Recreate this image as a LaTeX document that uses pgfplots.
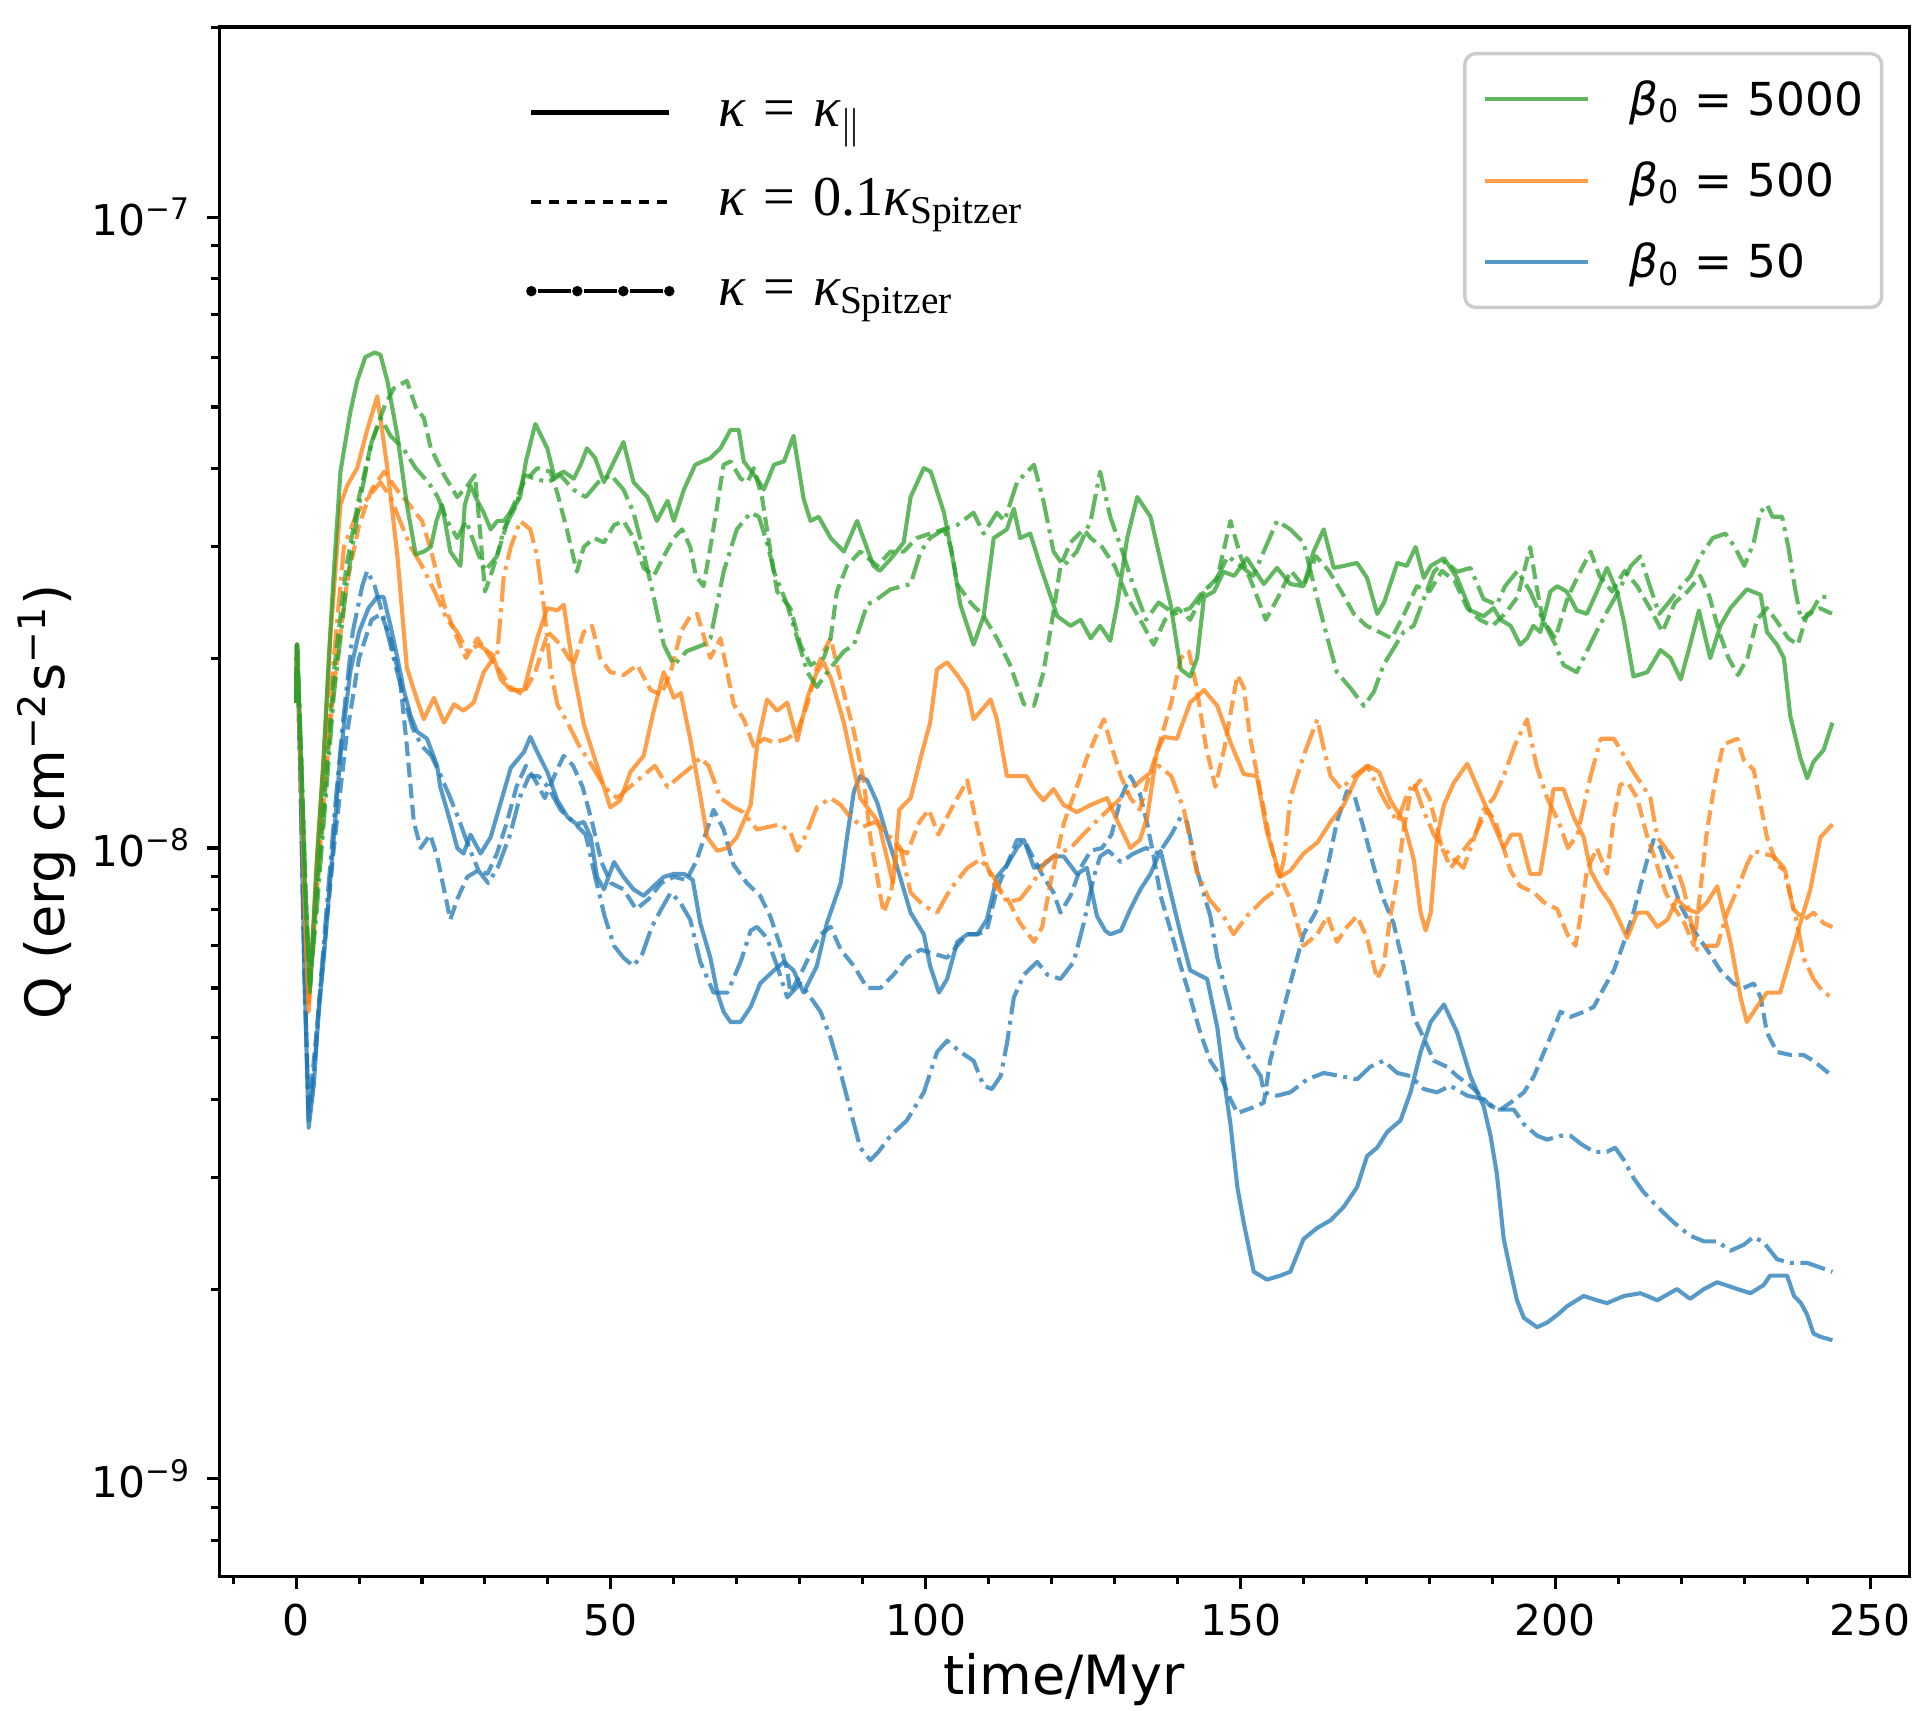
\documentclass[border=0pt]{standalone}
\usepackage[no-math]{fontspec}
\setmainfont{DejaVu Sans}
\newfontfamily\serifleg{Liberation Serif}
\usepackage{pgfplots}
\pgfplotsset{compat=1.18}
\definecolor{cgreen}{RGB}{44,160,44}
\definecolor{corange}{RGB}{255,127,14}
\definecolor{cblue}{RGB}{31,119,180}
\definecolor{legframe}{RGB}{204,204,204}
\newcommand{\kap}{{\itshape κ}}
\newcommand{\eq}{\hspace{0.32em}=\hspace{0.32em}}
\pgfplotsset{
  base/.style={draw opacity=0.75, line width=0.95pt, line join=round, forget plot},
  sol/.style={base, solid},
  dsh/.style={base, dash pattern=on 3.4pt off 1.5pt},
  ddt/.style={base, dash pattern=on 5.9pt off 1.5pt on 0.9pt off 1.5pt},
}
\begin{document}
\begin{tikzpicture}
\begin{axis}[name=main,
  width=137.2mm, height=125.8mm, scale only axis,
  xmin=-12.2, xmax=256.2, ymode=log, ymin=7e-10, ymax=2e-7,
  xtick={0,50,100,150,200,250}, xticklabels={0,50,100,150,200,250},
  minor xtick={-10,10,20,30,40,60,70,80,90,110,120,130,140,160,170,180,190,210,220,230,240},
  ytick={1e-9,1e-8,1e-7}, yticklabels={10\textsuperscript{−9},10\textsuperscript{−8},10\textsuperscript{−7}},
  minor ytick={8e-10,9e-10,2e-9,3e-9,4e-9,5e-9,6e-9,7e-9,8e-9,9e-9,2e-8,3e-8,4e-8,5e-8,6e-8,7e-8,8e-8,9e-8,2e-7},
  tick pos=left, tick align=outside,
  major tick length=2.9pt, minor tick length=1.8pt,
  every tick/.style={black, line width=0.7pt},
  axis line style={line width=0.8pt},
  ticklabel style={font=\fontsize{9.8}{12}\selectfont},
  xlabel={time/Myr},
  ylabel={Q (erg cm\textsuperscript{−2}s\textsuperscript{−1})},
  label style={font=\fontsize{12.5}{15}\selectfont},
  xlabel style={at={(axis description cs:0.5,-0.0763)}, anchor=base},
  ylabel style={at={(axis description cs:-0.0918,0.5)}, anchor=base, rotate=0},
  legend style={at={(axis description cs:0.9847,0.9840)}, anchor=north east,
    draw=legframe, line width=0.8pt, rounded corners=2.5pt, fill=white,
    inner xsep=1.5mm, inner ysep=0.4mm, row sep=0pt, column sep=3.2mm,
    font=\fontsize{10.5}{13}\selectfont,
    nodes={inner sep=0pt, text height=4.6mm, text depth=2.0mm},
    cells={anchor=west}},
  legend image code/.code={\draw[#1] (0mm,0mm) -- (8.3mm,0mm);},
]
\addlegendimage{cgreen, draw opacity=0.75, line width=0.95pt}
\addlegendentry{\textit{β}\textsubscript{0} = 5000}
\addlegendimage{corange, draw opacity=0.75, line width=0.95pt}
\addlegendentry{\textit{β}\textsubscript{0} = 500}
\addlegendimage{cblue, draw opacity=0.75, line width=0.95pt}
\addlegendentry{\textit{β}\textsubscript{0} = 50}

% ---------- beta0 = 50 (blue) ----------
\addplot[cblue, sol] coordinates {
(0,1.7e-8)(0.15,2.1e-8)(0.7,1.3e-8)(1.3,6.5e-9)(2.0,3.6e-9)(2.8,4.2e-9)(3.6,5.5e-9)(4.4,6.7e-9)(6,1.04e-8)(7,1.39e-8)(8.6,1.9e-8)(10,2.2e-8)(11.5,2.4e-8)(12.9,2.5e-8)(13.9,2.5e-8)(15,2.25e-8)(16.1,2.0e-8)(17.1,1.78e-8)(18.2,1.62e-8)(19.2,1.53e-8)(20.8,1.49e-8)(22.4,1.35e-8)(22.9,1.25e-8)(24.5,1.1e-8)(25.6,1.0e-8)(26.6,9.8e-9)(27.7,1.05e-8)(29.3,9.8e-9)(30.9,1.04e-8)(32.5,1.18e-8)(34.1,1.34e-8)(36.2,1.42e-8)(37.2,1.5e-8)(38.3,1.42e-8)(39.9,1.32e-8)(41.5,1.19e-8)(43.1,1.12e-8)(44.6,1.09e-8)(45.7,1.1e-8)(46.8,1.04e-8)(47.8,9.0e-9)(48.9,8.6e-9)(50.5,9.5e-9)(52,9.0e-9)(53.6,8.6e-9)(55.2,8.4e-9)(56.8,8.7e-9)(58.4,9.0e-9)(60,9.1e-9)(61.6,9.1e-9)(63,8.9e-9)(64.2,7.6e-9)(65.8,6.7e-9)(66.9,5.9e-9)(67.9,5.5e-9)(69,5.3e-9)(70.6,5.3e-9)(72.2,5.6e-9)(73.7,6.1e-9)(75.9,6.4e-9)(77.5,6.6e-9)(79,6.4e-9)(80.6,5.9e-9)(82.7,6.5e-9)(84.3,7.6e-9)(86.5,8.8e-9)(87.5,1.04e-8)(88.6,1.23e-8)(89.6,1.3e-8)(90.7,1.28e-8)(92.3,1.18e-8)(93.9,1.04e-8)(95.5,9.3e-9)(97.6,7.9e-9)(99.7,7.3e-9)(100.7,6.5e-9)(102.1,5.9e-9)(103.4,6.2e-9)(105,7.1e-9)(106.6,7.3e-9)(108.2,7.3e-9)(109.7,7.7e-9)(111.3,9.0e-9)(112.9,9.4e-9)(114.5,1.0e-8)(115.6,1.03e-8)(117.2,9.3e-9)(118.7,9.4e-9)(120.3,9.7e-9)(121.9,9.7e-9)(124,9.1e-9)(125.6,9.3e-9)(127.2,7.8e-9)(128.5,7.4e-9)(129.3,7.3e-9)(131,7.4e-9)(132.5,8.0e-9)(134.1,8.6e-9)(135.7,9.1e-9)(137.3,9.9e-9)(138.9,8.5e-9)(140.5,7.3e-9)(142,6.4e-9)(144.7,6.2e-9)(146.3,5.2e-9)(147.3,4.35e-9)(148.4,3.65e-9)(149.5,2.9e-9)(150.5,2.55e-9)(152.1,2.13e-9)(154.2,2.07e-9)(156.3,2.1e-9)(157.9,2.13e-9)(160,2.4e-9)(162.2,2.5e-9)(164.3,2.57e-9)(166.4,2.7e-9)(168.5,2.9e-9)(170.1,3.25e-9)(171.7,3.35e-9)(173.3,3.55e-9)(175.4,3.7e-9)(177,4.1e-9)(178.6,4.75e-9)(180.2,5.3e-9)(182.3,5.65e-9)(184.4,5.1e-9)(186.5,4.35e-9)(188.6,3.9e-9)(189.7,3.5e-9)(190.7,3.05e-9)(191.8,2.4e-9)(192.9,2.13e-9)(193.9,1.92e-9)(195,1.8e-9)(197.1,1.74e-9)(198.7,1.77e-9)(200.3,1.82e-9)(201.9,1.88e-9)(204.5,1.95e-9)(206.6,1.92e-9)(208.2,1.9e-9)(210.9,1.95e-9)(213.5,1.97e-9)(216.2,1.92e-9)(219.3,2.0e-9)(221.4,1.93e-9)(223.6,2.0e-9)(225.7,2.05e-9)(228.9,2.0e-9)(231,1.97e-9)(233.1,2.03e-9)(234.1,2.1e-9)(236.8,2.1e-9)(237.9,1.95e-9)(239,1.9e-9)(240,1.82e-9)(241,1.7e-9)(242.1,1.68e-9)(244,1.66e-9)
};
\addplot[cblue, dsh] coordinates {
(0,1.7e-8)(0.15,2.1e-8)(0.7,1.3e-8)(1.3,6.5e-9)(2.0,3.8e-9)(3,4.8e-9)(4,6.2e-9)(6,1.0e-8)(8,1.5e-8)(10,2.0e-8)(12,2.3e-8)(13.5,2.35e-8)(15,2.15e-8)(16.5,1.85e-8)(17.6,1.45e-8)(18.7,1.1e-8)(19.8,1.0e-8)(21.3,1.05e-8)(22.4,9.7e-9)(23.5,8.6e-9)(24.5,7.7e-9)(25.6,8.3e-9)(27.2,9.0e-9)(28.8,9.2e-9)(30.4,9.1e-9)(31.9,9.8e-9)(33.5,1.1e-8)(35,1.25e-8)(36.5,1.35e-8)(38,1.28e-8)(39.5,1.2e-8)(41,1.3e-8)(42.5,1.4e-8)(44,1.35e-8)(45.5,1.25e-8)(47,1.1e-8)(48.5,9.5e-9)(50,8.8e-9)(52,8.6e-9)(54,8.0e-9)(56,8.3e-9)(58,8.8e-9)(60,9.0e-9)(62,8.9e-9)(63.5,9.5e-9)(65,1.05e-8)(66.3,1.15e-8)(67.9,1.07e-8)(69.5,9.4e-9)(71.6,8.8e-9)(73.7,8.4e-9)(75.3,7.8e-9)(76.9,7.0e-9)(78,6.4e-9)(78.5,5.9e-9)(80.1,6.3e-9)(81.7,6.8e-9)(83.3,7.3e-9)(84.9,7.5e-9)(86.5,6.9e-9)(88.6,6.5e-9)(90.7,6.0e-9)(92.8,6.0e-9)(94.9,6.3e-9)(97,6.7e-9)(99.2,6.9e-9)(101.3,6.8e-9)(103.4,6.7e-9)(105,7.0e-9)(106.6,7.3e-9)(108.2,7.3e-9)(109.7,7.4e-9)(111.3,8.6e-9)(112.9,9.4e-9)(114.5,1.03e-8)(115.6,1.03e-8)(117.2,9.6e-9)(118.7,9.0e-9)(120.3,8.5e-9)(121.4,7.9e-9)(123,8.4e-9)(124.6,9.3e-9)(126.2,9.9e-9)(128,1.0e-8)(129.5,1.05e-8)(131,1.2e-8)(132.5,1.3e-8)(134,1.22e-8)(135.2,1.09e-8)(136.2,9.7e-9)(137.3,8.4e-9)(138.9,7.4e-9)(140.5,6.5e-9)(142,5.8e-9)(143.6,5.1e-9)(145.2,4.6e-9)(146.8,4.35e-9)(148.4,4.0e-9)(149.5,3.8e-9)(151,3.85e-9)(152.6,3.9e-9)(153.7,3.95e-9)(154.7,4.6e-9)(156.3,5.3e-9)(157.9,6.1e-9)(160,7.3e-9)(162.2,8.0e-9)(163.8,9.3e-9)(165.3,1.1e-8)(166.9,1.23e-8)(168,1.22e-8)(169.6,1.07e-8)(171.2,9.3e-9)(172.7,8.3e-9)(174.3,7.6e-9)(175.9,6.5e-9)(177.5,5.4e-9)(179.1,5.0e-9)(180.7,4.6e-9)(182.8,4.5e-9)(184.4,4.35e-9)(186.5,4.2e-9)(188.1,4.05e-9)(189.7,3.9e-9)(191.3,3.85e-9)(192.9,3.95e-9)(195,4.1e-9)(196.6,4.35e-9)(198.2,4.75e-9)(199.7,5.15e-9)(200.8,5.5e-9)(202.4,5.4e-9)(204.5,5.5e-9)(206.1,5.6e-9)(207.7,6.0e-9)(209.3,6.4e-9)(210.9,7.1e-9)(212.4,7.9e-9)(213.5,8.7e-9)(214.6,9.6e-9)(215.6,1.03e-8)(216.7,1.0e-8)(218.3,9.0e-9)(219.9,8.1e-9)(222,7.4e-9)(224.1,6.9e-9)(226.2,6.4e-9)(228.3,6.1e-9)(229.9,6.0e-9)(231.5,6.1e-9)(232.6,5.8e-9)(233.6,5.1e-9)(235.2,4.75e-9)(237.3,4.7e-9)(239.4,4.7e-9)(241,4.6e-9)(244,4.35e-9)
};
\addplot[cblue, ddt] coordinates {
(0,1.7e-8)(0.15,2.1e-8)(0.7,1.3e-8)(1.3,6.5e-9)(2.0,3.7e-9)(3,4.6e-9)(4,6.3e-9)(6,1.1e-8)(7.5,1.6e-8)(9,2.2e-8)(10.5,2.6e-8)(11.3,2.75e-8)(12.5,2.6e-8)(14,2.3e-8)(15.5,2.0e-8)(17,1.75e-8)(18.5,1.55e-8)(20,1.45e-8)(21.5,1.4e-8)(23,1.3e-8)(24.5,1.2e-8)(26,1.1e-8)(27.5,1.0e-8)(29,9.2e-9)(30.5,8.8e-9)(32,9.3e-9)(34,1.05e-8)(35.5,1.2e-8)(37,1.3e-8)(38.5,1.3e-8)(40,1.25e-8)(42,1.15e-8)(44,1.1e-8)(46,1.05e-8)(47.5,9.0e-9)(49,7.8e-9)(50.5,7.0e-9)(52,6.7e-9)(53.6,6.5e-9)(55,6.8e-9)(56.5,7.5e-9)(58,8.0e-9)(59.5,8.5e-9)(61,8.2e-9)(62.6,7.7e-9)(64.2,6.6e-9)(66.3,5.9e-9)(68.5,5.9e-9)(70.6,6.6e-9)(72.2,7.4e-9)(73.2,7.5e-9)(74.8,7.2e-9)(76.4,6.5e-9)(78,5.8e-9)(80.1,6.1e-9)(81.7,5.8e-9)(83.3,5.5e-9)(84.9,5.0e-9)(86.5,4.4e-9)(88,3.85e-9)(89.6,3.35e-9)(91.2,3.2e-9)(92.5,3.3e-9)(94.4,3.5e-9)(97,3.7e-9)(99.7,4.1e-9)(101.8,4.75e-9)(103.4,4.95e-9)(105.5,4.75e-9)(107.6,4.6e-9)(109.2,4.2e-9)(110.5,4.15e-9)(111.9,4.35e-9)(112.9,4.9e-9)(114,5.8e-9)(115.6,6.3e-9)(117.7,6.6e-9)(119.3,6.3e-9)(121.4,6.2e-9)(123.5,6.6e-9)(125.1,7.6e-9)(126.7,9.0e-9)(127.7,9.7e-9)(129,9.9e-9)(131,9.5e-9)(133,9.8e-9)(135,1.0e-8)(137,9.8e-9)(139,1.05e-8)(140.5,1.12e-8)(141.5,1.1e-8)(143.1,9.2e-9)(145.2,7.8e-9)(146.3,6.7e-9)(147.9,5.8e-9)(149.5,5.0e-9)(151.6,4.6e-9)(153.2,4.35e-9)(153.7,4.1e-9)(155.8,4.05e-9)(157.9,4.1e-9)(160.6,4.3e-9)(163.2,4.4e-9)(165.9,4.35e-9)(168.5,4.3e-9)(170.6,4.5e-9)(172.7,4.6e-9)(174.9,4.4e-9)(177,4.35e-9)(179.1,4.15e-9)(181.2,4.1e-9)(183.3,4.2e-9)(186,4.05e-9)(188.6,4.0e-9)(190.7,3.85e-9)(193.4,3.85e-9)(195,3.65e-9)(197.1,3.5e-9)(198.7,3.45e-9)(200.8,3.5e-9)(202.4,3.5e-9)(204,3.4e-9)(206.1,3.3e-9)(208.2,3.3e-9)(209.5,3.35e-9)(210.9,3.2e-9)(212.4,3.0e-9)(214,2.85e-9)(216.2,2.7e-9)(218.8,2.55e-9)(221.4,2.43e-9)(223.6,2.38e-9)(225.7,2.38e-9)(227.8,2.3e-9)(229.9,2.35e-9)(231.5,2.42e-9)(233.1,2.37e-9)(235.2,2.23e-9)(237.3,2.2e-9)(240,2.2e-9)(244,2.13e-9)
};
% ---------- beta0 = 500 (orange) ----------
\addplot[corange, sol] coordinates {
(0,1.7e-8)(0.15,2.1e-8)(0.8,1.3e-8)(1.5,7.5e-9)(2.0,5.5e-9)(3.3,9.6e-9)(4.4,1.4e-8)(5.5,2.2e-8)(7.05,3.5e-8)(8.1,3.75e-8)(9.7,4.0e-8)(11.3,4.6e-8)(12.9,5.2e-8)(14.5,4.0e-8)(16.1,2.9e-8)(17.6,1.93e-8)(19.2,1.72e-8)(20.3,1.6e-8)(21.9,1.73e-8)(23.5,1.58e-8)(25.1,1.69e-8)(26.6,1.65e-8)(28.2,1.7e-8)(29.8,1.9e-8)(31.4,2.0e-8)(32.5,1.85e-8)(34.1,1.78e-8)(36.2,1.78e-8)(38.3,2.15e-8)(39.9,2.4e-8)(41.5,2.38e-8)(42.5,2.43e-8)(44.1,1.9e-8)(45.7,1.57e-8)(47.3,1.4e-8)(48.9,1.25e-8)(49.9,1.16e-8)(51.5,1.19e-8)(53.1,1.32e-8)(55.2,1.4e-8)(56.8,1.65e-8)(58.4,1.9e-8)(60,1.73e-8)(61.1,1.76e-8)(62.6,1.49e-8)(64.2,1.21e-8)(65.3,1.04e-8)(66.9,9.9e-9)(68.5,1.0e-8)(70,1.04e-8)(72.2,1.17e-8)(73.2,1.45e-8)(74.8,1.72e-8)(76.4,1.65e-8)(78,1.7e-8)(79.6,1.48e-8)(81.2,1.73e-8)(82.7,1.9e-8)(83.8,1.97e-8)(85,1.85e-8)(87,1.58e-8)(88.6,1.33e-8)(89.6,1.2e-8)(91,1.15e-8)(92.5,1.1e-8)(94,9.5e-9)(94.8,8.8e-9)(95.8,1.15e-8)(97.6,1.2e-8)(99.2,1.39e-8)(100.7,1.58e-8)(101.8,1.92e-8)(103.4,1.97e-8)(105,1.88e-8)(106.6,1.78e-8)(107.6,1.6e-8)(109,1.66e-8)(110.3,1.72e-8)(111.3,1.6e-8)(112.9,1.3e-8)(114.5,1.3e-8)(116,1.3e-8)(117.2,1.24e-8)(118.7,1.19e-8)(120.3,1.24e-8)(121.9,1.17e-8)(124,1.14e-8)(126.2,1.17e-8)(128.8,1.2e-8)(130.5,1.1e-8)(132.5,1.0e-8)(134,1.03e-8)(135.2,1.12e-8)(136.7,1.42e-8)(137.8,1.5e-8)(139.9,1.49e-8)(142,1.7e-8)(144.2,1.78e-8)(146.3,1.68e-8)(148.4,1.47e-8)(150.5,1.31e-8)(152.6,1.3e-8)(154.2,1.06e-8)(156.3,9.0e-9)(157.9,9.2e-9)(160,9.8e-9)(162.2,1.02e-8)(164.3,1.1e-8)(166.4,1.17e-8)(168.5,1.3e-8)(170.3,1.35e-8)(172,1.32e-8)(173.8,1.19e-8)(175.9,1.1e-8)(177.5,9.6e-9)(178.6,7.9e-9)(179.4,7.4e-9)(180.2,7.9e-9)(181.2,1.04e-8)(182.3,1.17e-8)(183.9,1.27e-8)(186,1.36e-8)(187.6,1.25e-8)(189.7,1.12e-8)(191.8,1.0e-8)(193,1.05e-8)(194.4,1.05e-8)(196,9.1e-9)(197.6,9.1e-9)(198.7,1.06e-8)(199.7,1.24e-8)(201.3,1.24e-8)(202.9,1.12e-8)(204.5,1.04e-8)(205.6,9.2e-9)(207.2,8.6e-9)(208.7,8.2e-9)(209.8,7.8e-9)(211.4,7.2e-9)(213,7.9e-9)(214.6,7.9e-9)(216.2,7.5e-9)(217.8,7.7e-9)(219.3,8.3e-9)(220.9,8.0e-9)(222.5,7.9e-9)(224.1,8.2e-9)(225.7,8.7e-9)(226.7,7.9e-9)(227.8,7.1e-9)(229.4,5.8e-9)(230.4,5.3e-9)(232,5.6e-9)(233.6,5.9e-9)(235.7,5.9e-9)(237.3,6.7e-9)(238.9,7.6e-9)(240.5,8.6e-9)(242.1,1.04e-8)(244,1.09e-8)
};
\addplot[corange, dsh] coordinates {
(0,1.7e-8)(0.15,2.1e-8)(0.8,1.3e-8)(1.5,7.5e-9)(2.0,5.6e-9)(3.3,8.5e-9)(4.4,1.2e-8)(6,1.8e-8)(8,2.6e-8)(10,3.25e-8)(12,3.7e-8)(14,3.95e-8)(16,3.7e-8)(18,3.5e-8)(20,3.3e-8)(21.5,2.95e-8)(23.5,2.43e-8)(25.6,2.15e-8)(27,2.0e-8)(28.8,2.15e-8)(30.9,2.0e-8)(32.5,1.9e-8)(34,1.8e-8)(36,1.75e-8)(38,1.9e-8)(40,2.2e-8)(42,2.1e-8)(44,1.95e-8)(45.7,2.2e-8)(47,2.25e-8)(48.3,2.0e-8)(49.9,1.9e-8)(52,1.88e-8)(54.2,1.95e-8)(56.3,1.78e-8)(58,1.75e-8)(59.5,1.9e-8)(61.1,2.2e-8)(62.6,2.33e-8)(63.7,2.35e-8)(65.8,2.0e-8)(67.4,2.15e-8)(69.5,1.69e-8)(71.1,1.6e-8)(72.7,1.45e-8)(74.3,1.49e-8)(75.9,1.47e-8)(78,1.49e-8)(79.6,1.53e-8)(81.2,1.69e-8)(82.7,1.93e-8)(83.8,2.05e-8)(84.9,2.15e-8)(85.9,1.95e-8)(87,1.76e-8)(88.6,1.53e-8)(90.2,1.27e-8)(91.2,1.04e-8)(92.3,9.0e-9)(93.3,7.9e-9)(94.5,8.5e-9)(95.5,1.0e-8)(97,9.8e-9)(99,1.1e-8)(100.5,1.15e-8)(102,1.05e-8)(104,1.15e-8)(106.6,1.28e-8)(108,1.1e-8)(109.5,9.5e-9)(111,8.7e-9)(113,8.3e-9)(115,7.6e-9)(117.2,7.1e-9)(118.5,7.5e-9)(120,9.0e-9)(122,1.1e-8)(124,1.25e-8)(125.6,1.39e-8)(127,1.5e-8)(128.3,1.6e-8)(129.5,1.45e-8)(131,1.3e-8)(132.5,1.2e-8)(134,1.15e-8)(135.5,1.3e-8)(137,1.45e-8)(139,1.7e-8)(140.5,2.0e-8)(141.8,2.05e-8)(143,1.8e-8)(144.5,1.45e-8)(146,1.25e-8)(147.5,1.45e-8)(149.5,1.88e-8)(150.5,1.8e-8)(151.5,1.5e-8)(153,1.25e-8)(154.5,1.05e-8)(155.8,9.2e-9)(157.9,8.3e-9)(160,7.0e-9)(162.2,7.3e-9)(163.8,7.8e-9)(165.3,7.1e-9)(166.9,7.5e-9)(168.5,7.8e-9)(170.1,7.2e-9)(171.7,6.2e-9)(172.7,6.5e-9)(173.8,7.8e-9)(174.9,9.0e-9)(175.9,1.07e-8)(177,1.22e-8)(178.5,1.28e-8)(180,1.2e-8)(182,1.0e-8)(183.4,9.3e-9)(185,9.8e-9)(187,1.04e-8)(189.2,1.15e-8)(190.5,1.1e-8)(192.9,9.2e-9)(194.4,8.7e-9)(196.6,8.5e-9)(198.2,8.2e-9)(200.3,8.0e-9)(201.9,7.3e-9)(203.2,7.0e-9)(204,7.8e-9)(205,9.2e-9)(206.6,1.0e-8)(208.2,9.1e-9)(209.3,1.12e-8)(210.3,1.26e-8)(211.5,1.27e-8)(213,1.2e-8)(214.5,1.05e-8)(216,9.5e-9)(217.5,8.5e-9)(219,8.0e-9)(220.5,7.6e-9)(222,7.0e-9)(223,8.5e-9)(224,1.05e-8)(225.5,1.3e-8)(226.7,1.46e-8)(228.9,1.49e-8)(229.9,1.38e-8)(231.5,1.33e-8)(232.6,1.17e-8)(233.6,1.04e-8)(235.2,9.4e-9)(236.5,9.2e-9)(237.8,8.0e-9)(239.5,7.7e-9)(241,7.9e-9)(242.6,7.6e-9)(244,7.5e-9)
};
\addplot[corange, ddt] coordinates {
(0,1.7e-8)(0.15,2.1e-8)(0.8,1.3e-8)(1.5,7.5e-9)(2.0,5.7e-9)(3.3,9.0e-9)(4.4,1.3e-8)(6,2.0e-8)(7.6,3.0e-8)(9.7,3.4e-8)(11.5,3.6e-8)(13.4,3.8e-8)(15,3.6e-8)(16.5,3.3e-8)(18.2,3.0e-8)(20,2.8e-8)(22,2.55e-8)(24,2.3e-8)(25.6,2.2e-8)(27.2,2.05e-8)(29,2.1e-8)(31.9,2.0e-8)(33,2.7e-8)(34.1,3.0e-8)(35.6,3.3e-8)(37.2,3.2e-8)(38.3,2.9e-8)(39.4,2.4e-8)(40.4,1.92e-8)(41.5,1.69e-8)(43.1,1.58e-8)(45,1.45e-8)(47,1.35e-8)(49,1.25e-8)(51,1.2e-8)(53,1.25e-8)(55,1.3e-8)(57,1.35e-8)(59,1.25e-8)(61,1.3e-8)(63,1.35e-8)(64.2,1.39e-8)(65.5,1.35e-8)(67.4,1.2e-8)(69.5,1.16e-8)(71,1.14e-8)(73.2,1.07e-8)(75,1.08e-8)(76.9,1.09e-8)(78.5,1.06e-8)(79.6,9.9e-9)(81,1.05e-8)(82.7,1.16e-8)(84.9,1.2e-8)(86.5,1.17e-8)(88,1.12e-8)(90,1.08e-8)(92,1.1e-8)(94,1.05e-8)(96,1.0e-8)(97.6,8.5e-9)(99.7,8.1e-9)(101.8,7.9e-9)(103.9,8.6e-9)(106.6,9.3e-9)(108.7,9.6e-9)(110.8,9.0e-9)(112.9,8.2e-9)(115,8.3e-9)(117,8.8e-9)(119,9.5e-9)(121,9.8e-9)(123,1.0e-8)(125,1.05e-8)(127,1.1e-8)(129,1.15e-8)(131,1.2e-8)(133,1.25e-8)(135,1.3e-8)(137,1.35e-8)(139,1.3e-8)(141,1.15e-8)(143,9.2e-9)(145,8.3e-9)(147.3,7.8e-9)(148.9,7.3e-9)(151,7.8e-9)(153.7,8.3e-9)(155.8,8.6e-9)(156.9,9.6e-9)(157.9,1.2e-8)(160,1.4e-8)(162.2,1.6e-8)(163.2,1.44e-8)(164.3,1.3e-8)(166,1.24e-8)(168,1.3e-8)(170.1,1.35e-8)(172.7,1.2e-8)(174.9,1.1e-8)(176.5,1.22e-8)(177.5,1.27e-8)(179,1.15e-8)(180.7,1.05e-8)(182.3,1.0e-8)(183.9,9.6e-9)(185.4,9.3e-9)(187,1.03e-8)(188.6,1.15e-8)(190.2,1.2e-8)(191.8,1.3e-8)(193.5,1.45e-8)(195.5,1.6e-8)(197,1.35e-8)(198.7,1.2e-8)(200.5,1.1e-8)(202,1.0e-8)(203.5,1.05e-8)(205.6,1.3e-8)(207.2,1.49e-8)(209.3,1.49e-8)(210.9,1.4e-8)(212.4,1.32e-8)(214,1.25e-8)(215.1,1.2e-8)(216.2,1.04e-8)(218.8,9.6e-9)(220.4,8.6e-9)(222.5,6.9e-9)(224.1,7.0e-9)(225.7,7.0e-9)(227.3,7.9e-9)(228.9,8.6e-9)(230.4,9.4e-9)(231.5,9.9e-9)(233,9.8e-9)(234.7,9.7e-9)(236.3,9.3e-9)(237.3,8.4e-9)(238.4,7.6e-9)(239.4,6.7e-9)(241,6.2e-9)(242.6,5.9e-9)(244,5.8e-9)
};
% ---------- beta0 = 5000 (green) ----------
\addplot[cgreen, sol] coordinates {
(0,1.7e-8)(0.15,2.1e-8)(0.8,1.4e-8)(1.5,8.5e-9)(2.2,5.9e-9)(3.3,9.5e-9)(4.4,1.4e-8)(5.2,2.0e-8)(6,2.74e-8)(7.05,3.95e-8)(8.6,4.9e-8)(9.7,5.5e-8)(11,6.0e-8)(12.5,6.1e-8)(13.4,6.05e-8)(14.5,5.5e-8)(16.1,4.5e-8)(17.6,3.5e-8)(19,2.92e-8)(20.3,2.95e-8)(21.4,3.0e-8)(22.3,3.3e-8)(23.2,3.5e-8)(24.5,2.95e-8)(26.1,2.8e-8)(26.8,3.5e-8)(27.7,3.75e-8)(28.8,3.55e-8)(29.8,3.4e-8)(30.9,3.2e-8)(32,3.3e-8)(33,3.3e-8)(34.5,3.45e-8)(35.6,3.6e-8)(36.5,4.1e-8)(38,4.7e-8)(39.9,4.3e-8)(41,3.88e-8)(42.5,3.95e-8)(44.1,3.85e-8)(45.2,4.05e-8)(46.2,4.3e-8)(47.5,4.15e-8)(48.9,3.8e-8)(50.5,4.1e-8)(52,4.4e-8)(53.6,3.8e-8)(55.8,3.6e-8)(57.3,3.3e-8)(59,3.55e-8)(60,3.3e-8)(61.6,3.7e-8)(63.4,4.05e-8)(65.8,4.15e-8)(67.4,4.3e-8)(69,4.6e-8)(70.3,4.6e-8)(71.1,4.1e-8)(73.2,3.85e-8)(74.3,3.7e-8)(75.9,4.05e-8)(77.5,4.1e-8)(79,4.5e-8)(80.6,3.58e-8)(81.7,3.3e-8)(83,3.35e-8)(84.9,3.1e-8)(87,2.95e-8)(89.1,3.3e-8)(91.7,2.8e-8)(92.7,2.75e-8)(94.4,2.87e-8)(96.5,3.05e-8)(97.6,3.6e-8)(99.7,4.0e-8)(100.8,3.95e-8)(102.9,3.4e-8)(104.5,2.8e-8)(105.5,2.43e-8)(107.6,2.1e-8)(109.2,2.33e-8)(110.8,3.1e-8)(112.9,3.2e-8)(114,3.45e-8)(115,3.1e-8)(116.6,3.15e-8)(118.2,2.8e-8)(120.9,2.33e-8)(123,2.25e-8)(124.6,2.3e-8)(126.2,2.15e-8)(127.7,2.25e-8)(129.3,2.13e-8)(130.4,2.43e-8)(132,3.1e-8)(133.6,3.6e-8)(135.7,3.35e-8)(137.3,2.85e-8)(138.9,2.43e-8)(140.5,1.92e-8)(142,1.87e-8)(143.1,2.0e-8)(144.2,2.5e-8)(145.8,2.55e-8)(147.3,2.74e-8)(149,2.7e-8)(151,2.88e-8)(153.7,2.62e-8)(155.8,2.78e-8)(157.9,2.62e-8)(160,2.6e-8)(161.6,2.95e-8)(163.2,3.2e-8)(164.8,2.78e-8)(166.4,2.8e-8)(168.5,2.83e-8)(170.1,2.68e-8)(171.7,2.35e-8)(172.8,2.45e-8)(174.9,2.83e-8)(176.4,2.8e-8)(177.8,3.0e-8)(179.1,2.68e-8)(180.2,2.8e-8)(182.3,2.88e-8)(184.4,2.68e-8)(186.5,2.38e-8)(188.6,2.33e-8)(190.2,2.4e-8)(191.3,2.3e-8)(192.9,2.25e-8)(194.4,2.1e-8)(195.5,2.15e-8)(196.5,2.25e-8)(197.6,2.2e-8)(199.2,2.55e-8)(200.3,2.6e-8)(201.8,2.55e-8)(203.4,2.38e-8)(205,2.35e-8)(206.6,2.55e-8)(208.2,2.78e-8)(209.8,2.55e-8)(210.9,2.28e-8)(212.4,1.87e-8)(214.6,1.9e-8)(216.7,2.06e-8)(218.3,2.0e-8)(219.9,1.85e-8)(221.4,2.1e-8)(222.8,2.38e-8)(224.6,2.0e-8)(226.2,2.25e-8)(227.8,2.4e-8)(230.4,2.57e-8)(232.6,2.52e-8)(233.6,2.2e-8)(235.2,2.1e-8)(236.3,2.0e-8)(237.3,1.62e-8)(238.9,1.39e-8)(240,1.29e-8)(241,1.37e-8)(242.6,1.43e-8)(244,1.58e-8)
};
\addplot[cgreen, dsh] coordinates {
(0,1.7e-8)(0.15,2.1e-8)(0.8,1.4e-8)(1.5,8.5e-9)(2.2,6.0e-9)(3.3,8.5e-9)(4.4,1.15e-8)(6,1.9e-8)(8,2.8e-8)(10,3.6e-8)(12,4.4e-8)(14,5.0e-8)(15.5,5.35e-8)(17.6,5.5e-8)(19,5.0e-8)(20.3,4.8e-8)(21.4,4.3e-8)(23.5,3.9e-8)(25.6,3.6e-8)(27.2,3.75e-8)(28.4,3.9e-8)(29.2,3.2e-8)(30,2.55e-8)(30.9,2.7e-8)(31.9,2.9e-8)(34,3.4e-8)(36.2,3.8e-8)(38.3,4.0e-8)(40.4,3.95e-8)(41.5,3.65e-8)(43,3.2e-8)(44.6,2.74e-8)(45.7,3.0e-8)(47.3,3.1e-8)(48.9,3.05e-8)(50.5,3.25e-8)(52,3.3e-8)(53.6,3.1e-8)(55.2,2.78e-8)(56.8,2.7e-8)(58.4,2.9e-8)(60,3.1e-8)(61.3,3.2e-8)(62.6,3.0e-8)(63.5,2.7e-8)(64.7,2.6e-8)(65.8,3.0e-8)(66.9,3.5e-8)(67.9,4.05e-8)(69,4.1e-8)(70.6,3.85e-8)(71.7,3.8e-8)(72.7,4.0e-8)(74,3.6e-8)(75,3.1e-8)(76.4,2.55e-8)(78.5,2.4e-8)(80.1,2.1e-8)(81.7,1.95e-8)(83.8,2.0e-8)(84.9,2.15e-8)(85.9,2.55e-8)(87.5,2.8e-8)(89.6,2.95e-8)(92.3,2.8e-8)(94.4,2.95e-8)(96.5,2.95e-8)(98.6,3.1e-8)(100.7,3.15e-8)(102.9,3.2e-8)(104,3.0e-8)(105,2.62e-8)(107.1,2.45e-8)(109.2,2.33e-8)(111.3,2.15e-8)(113.4,1.95e-8)(115.6,1.69e-8)(117.2,1.68e-8)(118.7,1.9e-8)(120.3,2.37e-8)(121.4,2.8e-8)(123,3.05e-8)(125.1,3.2e-8)(126.2,3.1e-8)(128,3.0e-8)(130,2.8e-8)(132,2.5e-8)(134.6,2.25e-8)(136.2,2.1e-8)(138,2.3e-8)(140,2.4e-8)(142,2.3e-8)(144.2,2.55e-8)(146.3,2.68e-8)(148.4,3.3e-8)(150,2.9e-8)(152,2.6e-8)(154,2.3e-8)(156,2.5e-8)(158,2.75e-8)(160,2.6e-8)(162,2.9e-8)(164,2.75e-8)(166,2.55e-8)(168,2.35e-8)(170,2.25e-8)(172,2.2e-8)(174,2.15e-8)(176,2.35e-8)(178,2.6e-8)(180,2.55e-8)(182,2.75e-8)(184,2.65e-8)(186,2.4e-8)(188,2.3e-8)(190,2.25e-8)(192,2.35e-8)(194,2.5e-8)(196,3.0e-8)(197,2.6e-8)(198,2.3e-8)(200,2.15e-8)(202,2.5e-8)(204,2.75e-8)(205.6,2.95e-8)(207,2.7e-8)(209,2.55e-8)(211,2.75e-8)(213,2.6e-8)(215,2.4e-8)(217,2.2e-8)(219,2.45e-8)(221,2.55e-8)(223,2.7e-8)(224.5,2.5e-8)(226,2.2e-8)(227.5,2.0e-8)(229,1.88e-8)(230.5,2.0e-8)(232,2.3e-8)(233.6,2.4e-8)(235,2.3e-8)(237,2.15e-8)(238.5,2.1e-8)(240,2.35e-8)(242,2.4e-8)(244,2.35e-8)
};
\addplot[cgreen, ddt] coordinates {
(0,1.7e-8)(0.15,2.1e-8)(0.8,1.4e-8)(1.5,8.5e-9)(2.2,6.1e-9)(3.3,8.0e-9)(4.4,1.1e-8)(6,1.75e-8)(8,2.6e-8)(10,3.5e-8)(12,4.4e-8)(13.5,4.8e-8)(15,4.5e-8)(17,4.3e-8)(19,4.0e-8)(21,3.8e-8)(22.5,3.6e-8)(24,3.3e-8)(25.6,3.1e-8)(27,3.3e-8)(28.5,3.0e-8)(30,2.75e-8)(31.9,2.9e-8)(33,3.2e-8)(35,3.5e-8)(36.2,3.9e-8)(38,3.85e-8)(40,3.8e-8)(42,3.9e-8)(44,3.7e-8)(46,3.6e-8)(48,3.8e-8)(50,3.9e-8)(52,3.7e-8)(53.6,3.4e-8)(55,3.0e-8)(56.8,2.5e-8)(58.4,2.1e-8)(60,1.95e-8)(62,2.05e-8)(64.7,2.1e-8)(65.8,2.15e-8)(67.9,2.74e-8)(70,3.2e-8)(72.2,3.4e-8)(73.5,3.35e-8)(75,3.0e-8)(75.9,2.74e-8)(78,2.43e-8)(79.6,2.15e-8)(81.2,1.9e-8)(82.7,1.8e-8)(84.9,1.93e-8)(87,2.05e-8)(88.6,2.1e-8)(90.7,2.43e-8)(92.3,2.48e-8)(94.4,2.57e-8)(97.6,2.62e-8)(99.2,2.95e-8)(100.7,3.1e-8)(102.9,3.2e-8)(105,3.25e-8)(107.6,3.4e-8)(109.2,3.15e-8)(111.3,3.4e-8)(112.5,3.3e-8)(114.5,3.8e-8)(117.2,4.05e-8)(118.7,3.55e-8)(120.3,2.95e-8)(121.9,2.8e-8)(124,2.95e-8)(126.2,3.3e-8)(127.7,3.95e-8)(129.3,3.35e-8)(131,3.0e-8)(133,2.6e-8)(135,2.3e-8)(137,2.45e-8)(139.5,2.35e-8)(142,2.4e-8)(144,2.55e-8)(146,2.65e-8)(148,2.9e-8)(150,2.8e-8)(152,2.7e-8)(154,3.0e-8)(155.8,3.3e-8)(157.9,3.2e-8)(160,3.05e-8)(162.2,2.48e-8)(163.8,2.15e-8)(165.3,1.9e-8)(167.5,1.79e-8)(169.6,1.68e-8)(171.2,1.77e-8)(172.7,1.95e-8)(175.9,2.2e-8)(177.5,2.25e-8)(179.1,2.48e-8)(180.7,2.74e-8)(182.5,2.85e-8)(184.4,2.74e-8)(186.5,2.78e-8)(188.6,2.48e-8)(190.7,2.43e-8)(192,2.6e-8)(194,2.75e-8)(196,2.55e-8)(198,2.3e-8)(200,2.1e-8)(201.3,1.95e-8)(203.4,1.9e-8)(205,2.05e-8)(206.5,2.2e-8)(208,2.35e-8)(210,2.55e-8)(212,2.8e-8)(213.5,2.9e-8)(215,2.6e-8)(216.5,2.35e-8)(218,2.45e-8)(220,2.6e-8)(221.5,2.7e-8)(223,2.9e-8)(225,3.1e-8)(227,3.15e-8)(228.5,3.0e-8)(230,2.8e-8)(231.5,3.05e-8)(232.5,3.4e-8)(233.6,3.5e-8)(234.5,3.35e-8)(236,3.35e-8)(237,3.0e-8)(238,2.6e-8)(239,2.3e-8)(240.5,2.35e-8)(242,2.5e-8)(244,2.5e-8)
};
\end{axis}
\begin{axis}[name=leg, at={(main.south west)}, anchor=south west,
  width=137.2mm, height=125.8mm, scale only axis, hide axis,
  xmin=0, xmax=1, ymin=0, ymax=1,
  legend style={at={(axis description cs:0.1811,0.9742)}, anchor=north west,
    draw=none, fill=none, inner sep=0pt, row sep=0pt, column sep=3.55mm,
    font=\serifleg\fontsize{13}{15}\selectfont,
    nodes={inner sep=0pt, text height=4.75mm, text depth=2.5mm},
    cells={anchor=west}},
  legend image code/.code={\draw[#1] (0mm,0mm) -- (11.2mm,0mm);},
]
\addlegendimage{black, line width=1pt}
\addlegendentry{\kap\eq\kap\textsubscript{\ensuremath{\parallel}}}
\addlegendimage{black, line width=1pt, dash pattern=on 2.3pt off 1.85pt}
\addlegendentry{\kap\eq0.1\kap\textsubscript{Spitzer}}
\addlegendimage{legend image code/.code={
    \draw[black, line width=1pt] (0.55mm,0mm) -- (3.18mm,0mm) (4.29mm,0mm) -- (6.92mm,0mm) (8.02mm,0mm) -- (10.65mm,0mm);
    \fill[black] (0mm,0mm) circle (0.35mm) (3.733mm,0mm) circle (0.35mm) (7.467mm,0mm) circle (0.35mm) (11.2mm,0mm) circle (0.35mm);}}
\addlegendentry{\kap\eq\kap\textsubscript{Spitzer}}
\end{axis}
\pgfresetboundingbox
\path[use as bounding box] (main.south west) ++(-17.8mm,-10.85mm) rectangle ++(156.2mm,138.85mm);
\end{tikzpicture}
\end{document}
